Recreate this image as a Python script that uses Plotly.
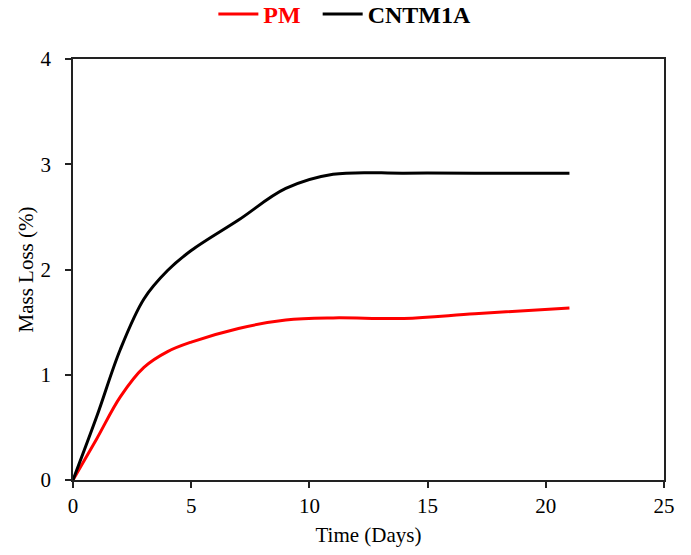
import plotly.graph_objects as go

days = [0, 1, 2, 3, 4, 5, 7, 9, 11, 14, 17, 21]
pm = [0, 0.39, 0.79, 1.07, 1.22, 1.31, 1.44, 1.52, 1.54, 1.535, 1.58, 1.635]
cntm1a = [0, 0.60, 1.24, 1.72, 1.99, 2.18, 2.47, 2.77, 2.905, 2.915, 2.915, 2.915]

FONT = "Liberation Serif, Times New Roman, serif"

fig = go.Figure()
fig.add_trace(go.Scatter(
    x=days, y=pm, mode="lines", line=dict(color="#ff0000", width=3, shape="spline", smoothing=1),
    name="<span style='color:#ff0000'><b>PM</b></span>&nbsp;&nbsp;"))
fig.add_trace(go.Scatter(
    x=days, y=cntm1a, mode="lines", line=dict(color="#000000", width=3, shape="spline", smoothing=1),
    name="<b>CNTM1A</b>"))

axis_common = dict(
    showgrid=False, zeroline=False, showline=True, linecolor="#222", linewidth=1.5,
    mirror=True, ticks="outside", ticklen=6, tickwidth=1.5, tickcolor="#222",
    tickfont=dict(family=FONT, size=21, color="black"),
)

fig.update_layout(
    width=691, height=555,
    margin=dict(l=73, r=27, t=59, b=75, autoexpand=False),
    plot_bgcolor="white", paper_bgcolor="white",
    font=dict(family=FONT, size=21, color="black"),
    legend=dict(orientation="h", xref="paper", x=0.46, xanchor="center",
                yref="paper", y=1.106, yanchor="middle",
                font=dict(family=FONT, size=24, color="black"),
                itemwidth=40, tracegroupgap=0),
    xaxis=dict(range=[0, 25], dtick=5, title=dict(text="Time (Days)", font=dict(family=FONT, size=21), standoff=10), **axis_common),
    yaxis=dict(range=[0, 4], dtick=1, ticklabelstandoff=10,
               title=dict(text="Mass Loss (%)", font=dict(family=FONT, size=21), standoff=1), **axis_common),
)

fig.write_html("out.html", config={"displayModeBar": False},
               post_script="document.body.style.margin='0';")
